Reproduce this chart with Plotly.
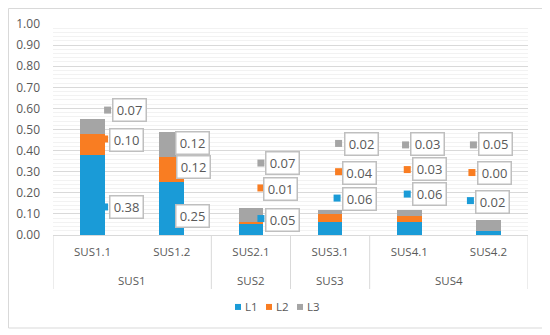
import plotly.graph_objects as go

# ---------------- data ----------------
groups = ["SUS1", "SUS1", "SUS2", "SUS3", "SUS4", "SUS4"]
categories = ["SUS1.1", "SUS1.2", "SUS2.1", "SUS3.1", "SUS4.1", "SUS4.2"]
series_names = ["L1", "L2", "L3"]
L1 = [0.38, 0.25, 0.05, 0.06, 0.06, 0.02]
L2 = [0.10, 0.12, 0.01, 0.04, 0.03, 0.00]
L3 = [0.07, 0.12, 0.07, 0.02, 0.03, 0.05]
y_tick_values = [0.0, 0.1, 0.2, 0.3, 0.4, 0.5, 0.6, 0.7, 0.8, 0.9, 1.0]

# ---------------- styles / callout placement ----------------
colors = ["#1A9BD7", "#F97D22", "#A5A5A5"]
text_color = "#595959"
grid_color = "#D9D9D9"
minor_grid_color = "#F2F2F2"
FONT = "Open Sans"

# callout boxes: pixel x-shift from category centre, y in data units
box_dx = [
    [34, 20.5, 32, 29.5, 20, 4.5],
    [34, 22, 30, 29.5, 20, 6],
    [37, 20.5, 32, 31, 18, 7.5],
]
box_y = [
    [0.134, 0.090, 0.071, 0.171, 0.194, 0.156],
    [0.450, 0.322, 0.218, 0.296, 0.313, 0.294],
    [0.592, 0.436, 0.341, 0.429, 0.431, 0.431],
]
key_dx = [
    [12, 8, 10, 7, -2, -18],
    [12, 9, 10, 8.5, -2, -16.5],
    [15, 8, 10, 8.5, -3.7, -15],
]
key_y = [
    [0.133, 0.090, 0.078, 0.175, 0.194, 0.163],
    [0.455, 0.320, 0.223, 0.300, 0.310, 0.296],
    [0.592, 0.400, 0.341, 0.434, 0.427, 0.427],
]

values = [L1, L2, L3]

fig = go.Figure()
for name, vals, col in zip(series_names, values, colors):
    fig.add_trace(go.Bar(
        x=categories, y=vals, name=name,
        marker=dict(color=col, line=dict(width=0)),
        showlegend=False, hoverinfo="skip",
    ))

shapes = []
annotations = []

# data callouts with legend keys
for s, (vals, col) in enumerate(zip(values, colors)):
    for i, v in enumerate(vals):
        annotations.append(dict(
            x=i, y=box_y[s][i], xref="x", yref="y", xshift=box_dx[s][i],
            text=f"{v:.2f}", showarrow=False,
            font=dict(family=FONT, size=13, color=text_color),
            bgcolor="white", bordercolor="#BFBFBF", borderwidth=1.5,
            borderpad=2, width=28, height=17, align="center",
            xanchor="center", yanchor="middle",
        ))
        shapes.append(dict(
            type="rect", xref="x", yref="y",
            xsizemode="pixel", ysizemode="pixel",
            xanchor=i, yanchor=key_y[s][i],
            x0=key_dx[s][i] - 3.5, x1=key_dx[s][i] + 3.5, y0=-3.5, y1=3.5,
            fillcolor=col, line=dict(width=0), layer="above",
        ))

# group labels and dividers
uniq = []
for g in groups:
    if g not in uniq:
        uniq.append(g)
for g in uniq:
    idx = [i for i, gg in enumerate(groups) if gg == g]
    annotations.append(dict(
        x=sum(idx) / len(idx), y=-0.218, xref="x", yref="paper",
        text=g, showarrow=False, xanchor="center", yanchor="middle",
        font=dict(family=FONT, size=11.5, color=text_color),
    ))
bounds = [-0.5] + [i - 0.5 for i in range(1, len(groups)) if groups[i] != groups[i - 1]] + [len(groups) - 0.5]
for b in bounds:
    shapes.append(dict(type="line", xref="x", yref="paper", x0=b, x1=b, y0=0, y1=-0.256,
                       line=dict(color=grid_color, width=1)))

# manual legend
leg_x0 = (238 - 53) / 475
for k, (name, col) in enumerate(zip(series_names, colors)):
    shapes.append(dict(
        type="rect", xref="paper", yref="paper",
        xsizemode="pixel", ysizemode="pixel", xanchor=leg_x0, yanchor=-0.341,
        x0=k * 31 - 3, x1=k * 31 + 3, y0=-3, y1=3,
        fillcolor=col, line=dict(width=0),
    ))
    annotations.append(dict(
        x=leg_x0, y=-0.341, xref="paper", yref="paper", xshift=k * 31 + 5,
        text=name, showarrow=False, xanchor="left", yanchor="middle",
        font=dict(family=FONT, size=11.5, color=text_color),
    ))

# outer chart border
shapes.append(dict(type="rect", xref="paper", yref="paper",
                   x0=(8.5 - 53) / 475, x1=(543 - 53) / 475,
                   y0=(235 - 328) / 211, y1=(235 - 8.5) / 211,
                   line=dict(color="#D9D9D9", width=1), fillcolor="rgba(0,0,0,0)",
                   layer="below"))

fig.update_layout(
    width=542, height=327,
    margin=dict(l=45, r=22, t=16, b=100),
    barmode="stack", bargap=0.69,
    paper_bgcolor="white", plot_bgcolor="white",
    font=dict(family=FONT, color=text_color),
    shapes=shapes, annotations=annotations,
    showlegend=False,
    xaxis=dict(
        type="category", range=[-0.5, 5.5], showline=True, linecolor=grid_color,
        linewidth=1, ticks="", showgrid=False, zeroline=False,
        tickfont=dict(family=FONT, size=11.5, color=text_color),
        ticklabelstandoff=6, fixedrange=True, automargin=False,
    ),
    yaxis=dict(
        range=[0, 1.0], tickvals=y_tick_values, tickformat=".2f",
        showgrid=True, gridcolor=grid_color, gridwidth=1, zeroline=False,
        ticks="", showline=False,
        tickfont=dict(family=FONT, size=12, color=text_color),
        ticklabelstandoff=12, automargin=False,
        minor=dict(dtick=0.02, showgrid=True, gridcolor=minor_grid_color, gridwidth=1),
        fixedrange=True,
    ),
)

fig.write_html("out.html")
